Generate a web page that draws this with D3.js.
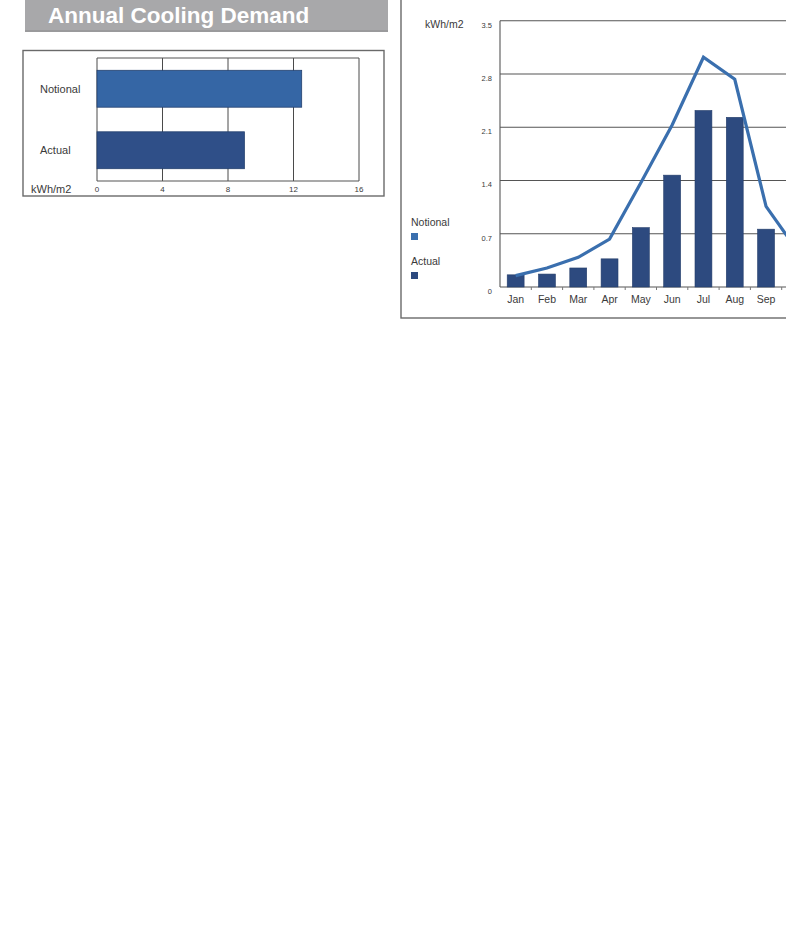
<!DOCTYPE html>
<html><head><meta charset="utf-8">
<script src="https://cdn.jsdelivr.net/npm/d3@7"></script>
<style>
html,body{margin:0;padding:0;background:#fff;overflow:hidden;}
svg{display:block;font-family:"Liberation Sans",Arial,sans-serif;}
</style></head>
<body>
<svg id="c" width="786" height="932"></svg>
<script>
// ---- data ----
const annualCategories = ["Notional", "Actual"];
const annualValues = [12.5, 9.0];
const annualTicks = [0, 4, 8, 12, 16];

const months = ["Jan","Feb","Mar","Apr","May","Jun","Jul","Aug","Sep","Oct","Nov","Dec"];
const monthlyActual   = [0.16, 0.17, 0.25, 0.37, 0.78, 1.47, 2.32, 2.23, 0.76, 0.28, 0.12, 0.08];
const monthlyNotional = [0.15, 0.25, 0.39, 0.63, 1.37, 2.13, 3.02, 2.73, 1.06, 0.48, 0.22, 0.12];
const monthlyTicks = [0, 0.7, 1.4, 2.1, 2.8, 3.5];
const titleText = "Annual Cooling Demand";
const unitLabel = "kWh/m2";

const W = 786;
const svg = d3.select("#c");
const txt = "#3a3a3a";

// ---- left: title bar ----
svg.append("rect").attr("x",25).attr("y",-2).attr("width",363).attr("height",33.5).attr("fill","#a8a8aa");
svg.append("rect").attr("x",25).attr("y",30).attr("width",363).attr("height",2).attr("fill","#9a9a9c");
svg.append("text").attr("x",48).attr("y",22.5).attr("fill","#fff")
  .attr("font-size",22.5).attr("font-weight","bold").text(titleText);

// ---- left: annual bar chart ----
svg.append("rect").attr("x",23).attr("y",50.5).attr("width",361).attr("height",145.5)
  .attr("fill","none").attr("stroke","#6a6a6a").attr("stroke-width",1.4);

const ax = d3.scaleLinear().domain([0,16]).range([97,359]);
const ay = d3.scaleBand().domain(annualCategories).range([58,181]).paddingInner(0.4).paddingOuter(0.2);
const annColors = {"Notional":"#3566a5","Actual":"#2f4f88"};

const gL = svg.append("g");
gL.selectAll("line.grid").data(annualTicks).join("line")
  .attr("x1",d=>ax(d)).attr("x2",d=>ax(d)).attr("y1",58).attr("y2",181)
  .attr("stroke","#4a4a4a").attr("stroke-width",1);
gL.append("line").attr("x1",97).attr("x2",359).attr("y1",58).attr("y2",58).attr("stroke","#555").attr("stroke-width",1.2);
gL.append("line").attr("x1",97).attr("x2",359).attr("y1",181).attr("y2",181).attr("stroke","#555").attr("stroke-width",1.2);

gL.selectAll("rect.bar").data(annualCategories).join("rect")
  .attr("x",ax(0)).attr("y",d=>ay(d)).attr("height",ay.bandwidth())
  .attr("width",(d,i)=>ax(annualValues[i])-ax(0))
  .attr("fill",d=>annColors[d]).attr("stroke","#24406e").attr("stroke-width",0.8);

gL.selectAll("text.cat").data(annualCategories).join("text")
  .attr("x",40).attr("y",d=>ay(d)+ay.bandwidth()/2+4)
  .attr("font-size",11).attr("fill",txt).text(d=>d);

gL.selectAll("text.tick").data(annualTicks).join("text")
  .attr("x",d=>ax(d)).attr("y",192).attr("text-anchor","middle")
  .attr("font-size",8).attr("fill",txt).text(d=>d);
gL.append("text").attr("x",31).attr("y",193).attr("font-size",11).attr("fill",txt).text(unitLabel);

// ---- right: monthly chart ----
svg.append("rect").attr("x",401).attr("y",-5).attr("width",500).attr("height",323)
  .attr("fill","none").attr("stroke","#6a6a6a").attr("stroke-width",1.4);

const mx = d3.scaleBand().domain(months).range([500,875.6]).paddingInner(0.46).paddingOuter(0.23);
const my = d3.scaleLinear().domain([0,3.5]).range([287,20.7]);
const cx = d => mx(d)+mx.bandwidth()/2;

const gR = svg.append("g");
gR.selectAll("line.grid").data(monthlyTicks).join("line")
  .attr("x1",500).attr("x2",900).attr("y1",d=>my(d)).attr("y2",d=>my(d))
  .attr("stroke","#555").attr("stroke-width",1.1);
gR.append("line").attr("x1",500).attr("x2",500).attr("y1",my(3.5)).attr("y2",my(0))
  .attr("stroke","#555").attr("stroke-width",1.1);

// small ticks on bottom axis at band boundaries
gR.selectAll("line.tk").data(months.slice(1)).join("line")
  .attr("x1",d=>mx(d)-mx.step()*mx.paddingInner()/2).attr("x2",d=>mx(d)-mx.step()*mx.paddingInner()/2)
  .attr("y1",my(0)).attr("y2",my(0)+3).attr("stroke","#777").attr("stroke-width",1);

gR.selectAll("text.yt").data(monthlyTicks).join("text")
  .attr("x",492).attr("y",d=>my(d)+7).attr("text-anchor","end")
  .attr("font-size",7.5).attr("fill",txt).text(d=>d);
gR.append("text").attr("x",425).attr("y",28).attr("font-size",10.5).attr("fill",txt).text(unitLabel);

gR.selectAll("rect.bar").data(months).join("rect")
  .attr("x",d=>mx(d)).attr("width",mx.bandwidth())
  .attr("y",(d,i)=>my(monthlyActual[i])).attr("height",(d,i)=>my(0)-my(monthlyActual[i]))
  .attr("fill","#2d4a7f").attr("stroke","#243d6a").attr("stroke-width",0.6);

const line = d3.line().x((d,i)=>cx(months[i])).y(d=>my(d));
gR.append("path").datum(monthlyNotional).attr("d",line)
  .attr("fill","none").attr("stroke","#3a6fae").attr("stroke-width",3.2).attr("stroke-linejoin","miter");

// month labels: only those that lie inside the visible page (chart is cropped at the right edge)
gR.selectAll("text.mt").data(months.filter(d=>cx(d)+12 < W)).join("text")
  .attr("x",d=>cx(d)).attr("y",303).attr("text-anchor","middle")
  .attr("font-size",10.5).attr("fill",txt).text(d=>d);

// legend
const legend = [{name:"Notional",color:"#3a6fae",y:226},{name:"Actual",color:"#2d4a7f",y:265}];
const lg = gR.selectAll("g.lg").data(legend).join("g");
lg.append("text").attr("x",411).attr("y",d=>d.y).attr("font-size",10.5).attr("fill",txt).text(d=>d.name);
lg.append("rect").attr("x",411).attr("y",d=>d.y+7).attr("width",7).attr("height",7).attr("fill",d=>d.color);
</script>
</body></html>
